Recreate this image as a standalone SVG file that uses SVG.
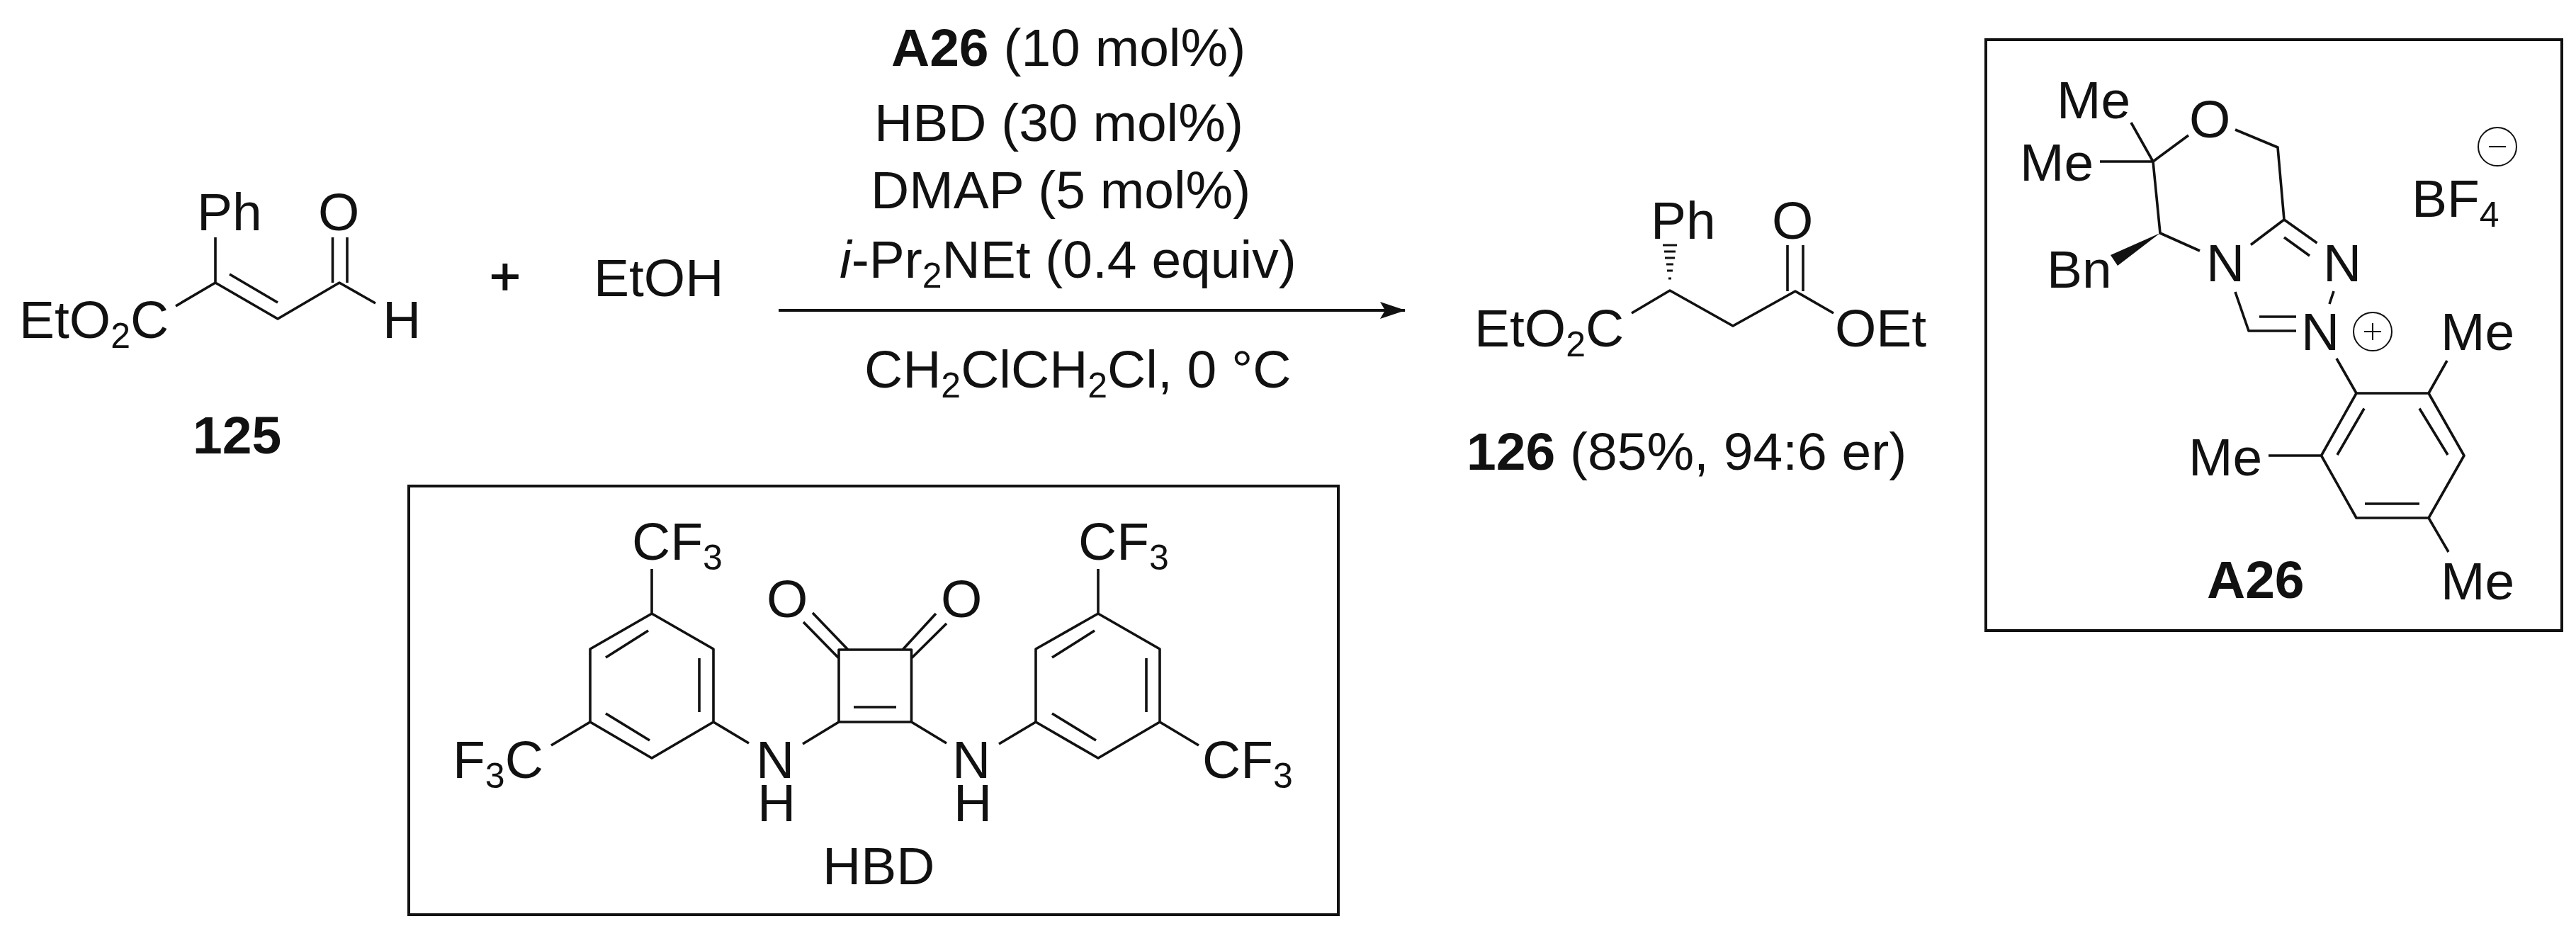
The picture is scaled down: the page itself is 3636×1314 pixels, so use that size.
<svg xmlns="http://www.w3.org/2000/svg" width="3636" height="1314" viewBox="0 0 3636 1314">
<style>
text{font-family:"Liberation Sans",Arial,sans-serif;font-size:75px;fill:#111}
.b{font-weight:bold}
.i{font-style:italic}
.s{font-size:50px}
path{fill:none;stroke:#111;stroke-width:3.6;stroke-linejoin:round;stroke-linecap:butt}
.box{fill:none;stroke:#111;stroke-width:4}
.chg{fill:none;stroke:#111;stroke-width:2}
.solid{fill:#111;stroke:none}
</style>
<defs>
<marker id="head" viewBox="0 0 36 24" refX="35" refY="12" markerWidth="36" markerHeight="24" markerUnits="userSpaceOnUse" orient="auto"><path class="solid" d="M0 0L36 12L0 24L7 12Z"/></marker>
</defs>
<rect width="3636" height="1314" fill="#fff"/>
<g id="substrate-125">
<path d="M248 432L304 399L392 450L479 399L530 428M304 399V335M324 387L392 427M469.500 399V335M490 399V335"/>
<text x="27" y="477">EtO<tspan class="s" dy="14">2</tspan><tspan dy="-14">C</tspan></text>
<text x="278" y="325">Ph</text>
<text x="449" y="325">O</text>
<text x="540" y="477">H</text>
<text class="b" x="272" y="640">125</text>
</g>
<g id="plus"><text x="713" y="416" text-anchor="middle" style="stroke:#111;stroke-width:1.5">+</text></g>
<g id="ethanol"><text x="838" y="418">EtOH</text></g>
<g id="conditions">
<text x="1258" y="93"><tspan class="b">A26</tspan> (10 mol%)</text>
<text x="1234" y="199">HBD (30 mol%)</text>
<text x="1229" y="294">DMAP (5 mol%)</text>
<text x="1185" y="392"><tspan class="i">i</tspan>-Pr<tspan class="s" dy="14">2</tspan><tspan dy="-14">NEt (0.4 equiv)</tspan></text>
<text x="1220" y="547">CH<tspan class="s" dy="14">2</tspan><tspan dy="-14">ClCH</tspan><tspan class="s" dy="14">2</tspan><tspan dy="-14">Cl, 0 °C</tspan></text>
</g>
<g id="connectors">
<path d="M1099 438H1983" style="stroke-width:4" marker-end="url(#head)"/>
</g>
<g id="product-126">
<path d="M2303 442L2357 410L2446 460L2534 411L2588 442M2523 411V346M2545 411V346"/>
<path d="M2347 346H2367M2349 355H2365M2350 364H2364M2352 373H2362M2353 382H2361M2355 393H2359" style="stroke-width:3"/>
<text x="2081" y="489">EtO<tspan class="s" dy="14">2</tspan><tspan dy="-14">C</tspan></text>
<text x="2330" y="337">Ph</text>
<text x="2501" y="337">O</text>
<text x="2590" y="489">OEt</text>
<text x="2070" y="663"><tspan class="b">126</tspan> (85%, 94:6 er)</text>
</g>
<g id="hbd">
<rect class="box" x="577" y="686" width="1312" height="605"/>
<path d="M920 866L1007 916V1019L920 1070L833 1019V916ZM915 890L855 928M987 929V1005M855 1007L917 1045M920 803V866M833 1019L778 1052M1007 1019L1057 1049M1133 1050L1184 1019"/>
<path d="M1184 917H1286.500V1019H1184ZM1205 998H1265M1147 865L1197 917M1134 878L1184 929M1321 866L1274 917M1336 880L1286.500 929M1286.500 1019L1336 1049M1410 1050L1462 1019"/>
<path d="M1550 866L1637 916V1019L1550 1070L1462 1019V916ZM1545 890L1485 928M1618 929V1005M1485 1007L1547 1045M1550 803V866M1637 1019L1692 1052"/>
<text x="892" y="790">CF<tspan class="s" dy="14">3</tspan></text>
<text x="1522" y="790">CF<tspan class="s" dy="14">3</tspan></text>
<text x="639" y="1098">F<tspan class="s" dy="14">3</tspan><tspan dy="-14">C</tspan></text>
<text x="1697" y="1098">CF<tspan class="s" dy="14">3</tspan></text>
<text x="1082" y="871">O</text>
<text x="1328" y="871">O</text>
<text x="1067" y="1098">N<tspan x="1069" dy="61">H</tspan></text>
<text x="1344" y="1098">N<tspan x="1346" dy="61">H</tspan></text>
<text x="1161" y="1248">HBD</text>
</g>
<g id="a26">
<rect class="box" x="2803" y="56" width="813" height="834"/>
<path d="M3008 173L3039 228M2964 228H3039M3039 228L3089 191M3155 183L3215 208L3224 310M3039 228L3049 329L3105 354M3177 345.500L3224 310L3270.500 343M3224 335L3260 361M3294 411L3288 429M3155 412L3174 467H3241M3189 447H3241M3298 506L3326 555"/>
<path class="solid" d="M3049 329L2979 360L2989 375Z"/>
<path d="M3326 555H3428L3478 643L3428 731H3326L3276.500 643ZM3337 576.500L3299 642M3415 576.500L3455 642M3338 711H3415M3428 555L3454 509M3276.500 643H3202M3428 731L3456 779"/>
<circle class="chg" cx="3349" cy="468" r="27"/>
<path class="chg" d="M3337 468H3361M3349 456V480"/>
<circle class="chg" cx="3525" cy="207" r="27"/>
<path class="chg" d="M3513 207H3537"/>
<text x="2903" y="167">Me</text>
<text x="2851" y="255">Me</text>
<text x="3090" y="194">O</text>
<text x="2889" y="406">Bn</text>
<text x="3114" y="397">N</text>
<text x="3279" y="397">N</text>
<text x="3248" y="494">N</text>
<text x="3404" y="306">BF<tspan class="s" dy="14">4</tspan></text>
<text x="3445" y="494">Me</text>
<text x="3089" y="671">Me</text>
<text x="3445" y="846">Me</text>
<text class="b" x="3115" y="844">A26</text>
</g>
</svg>
